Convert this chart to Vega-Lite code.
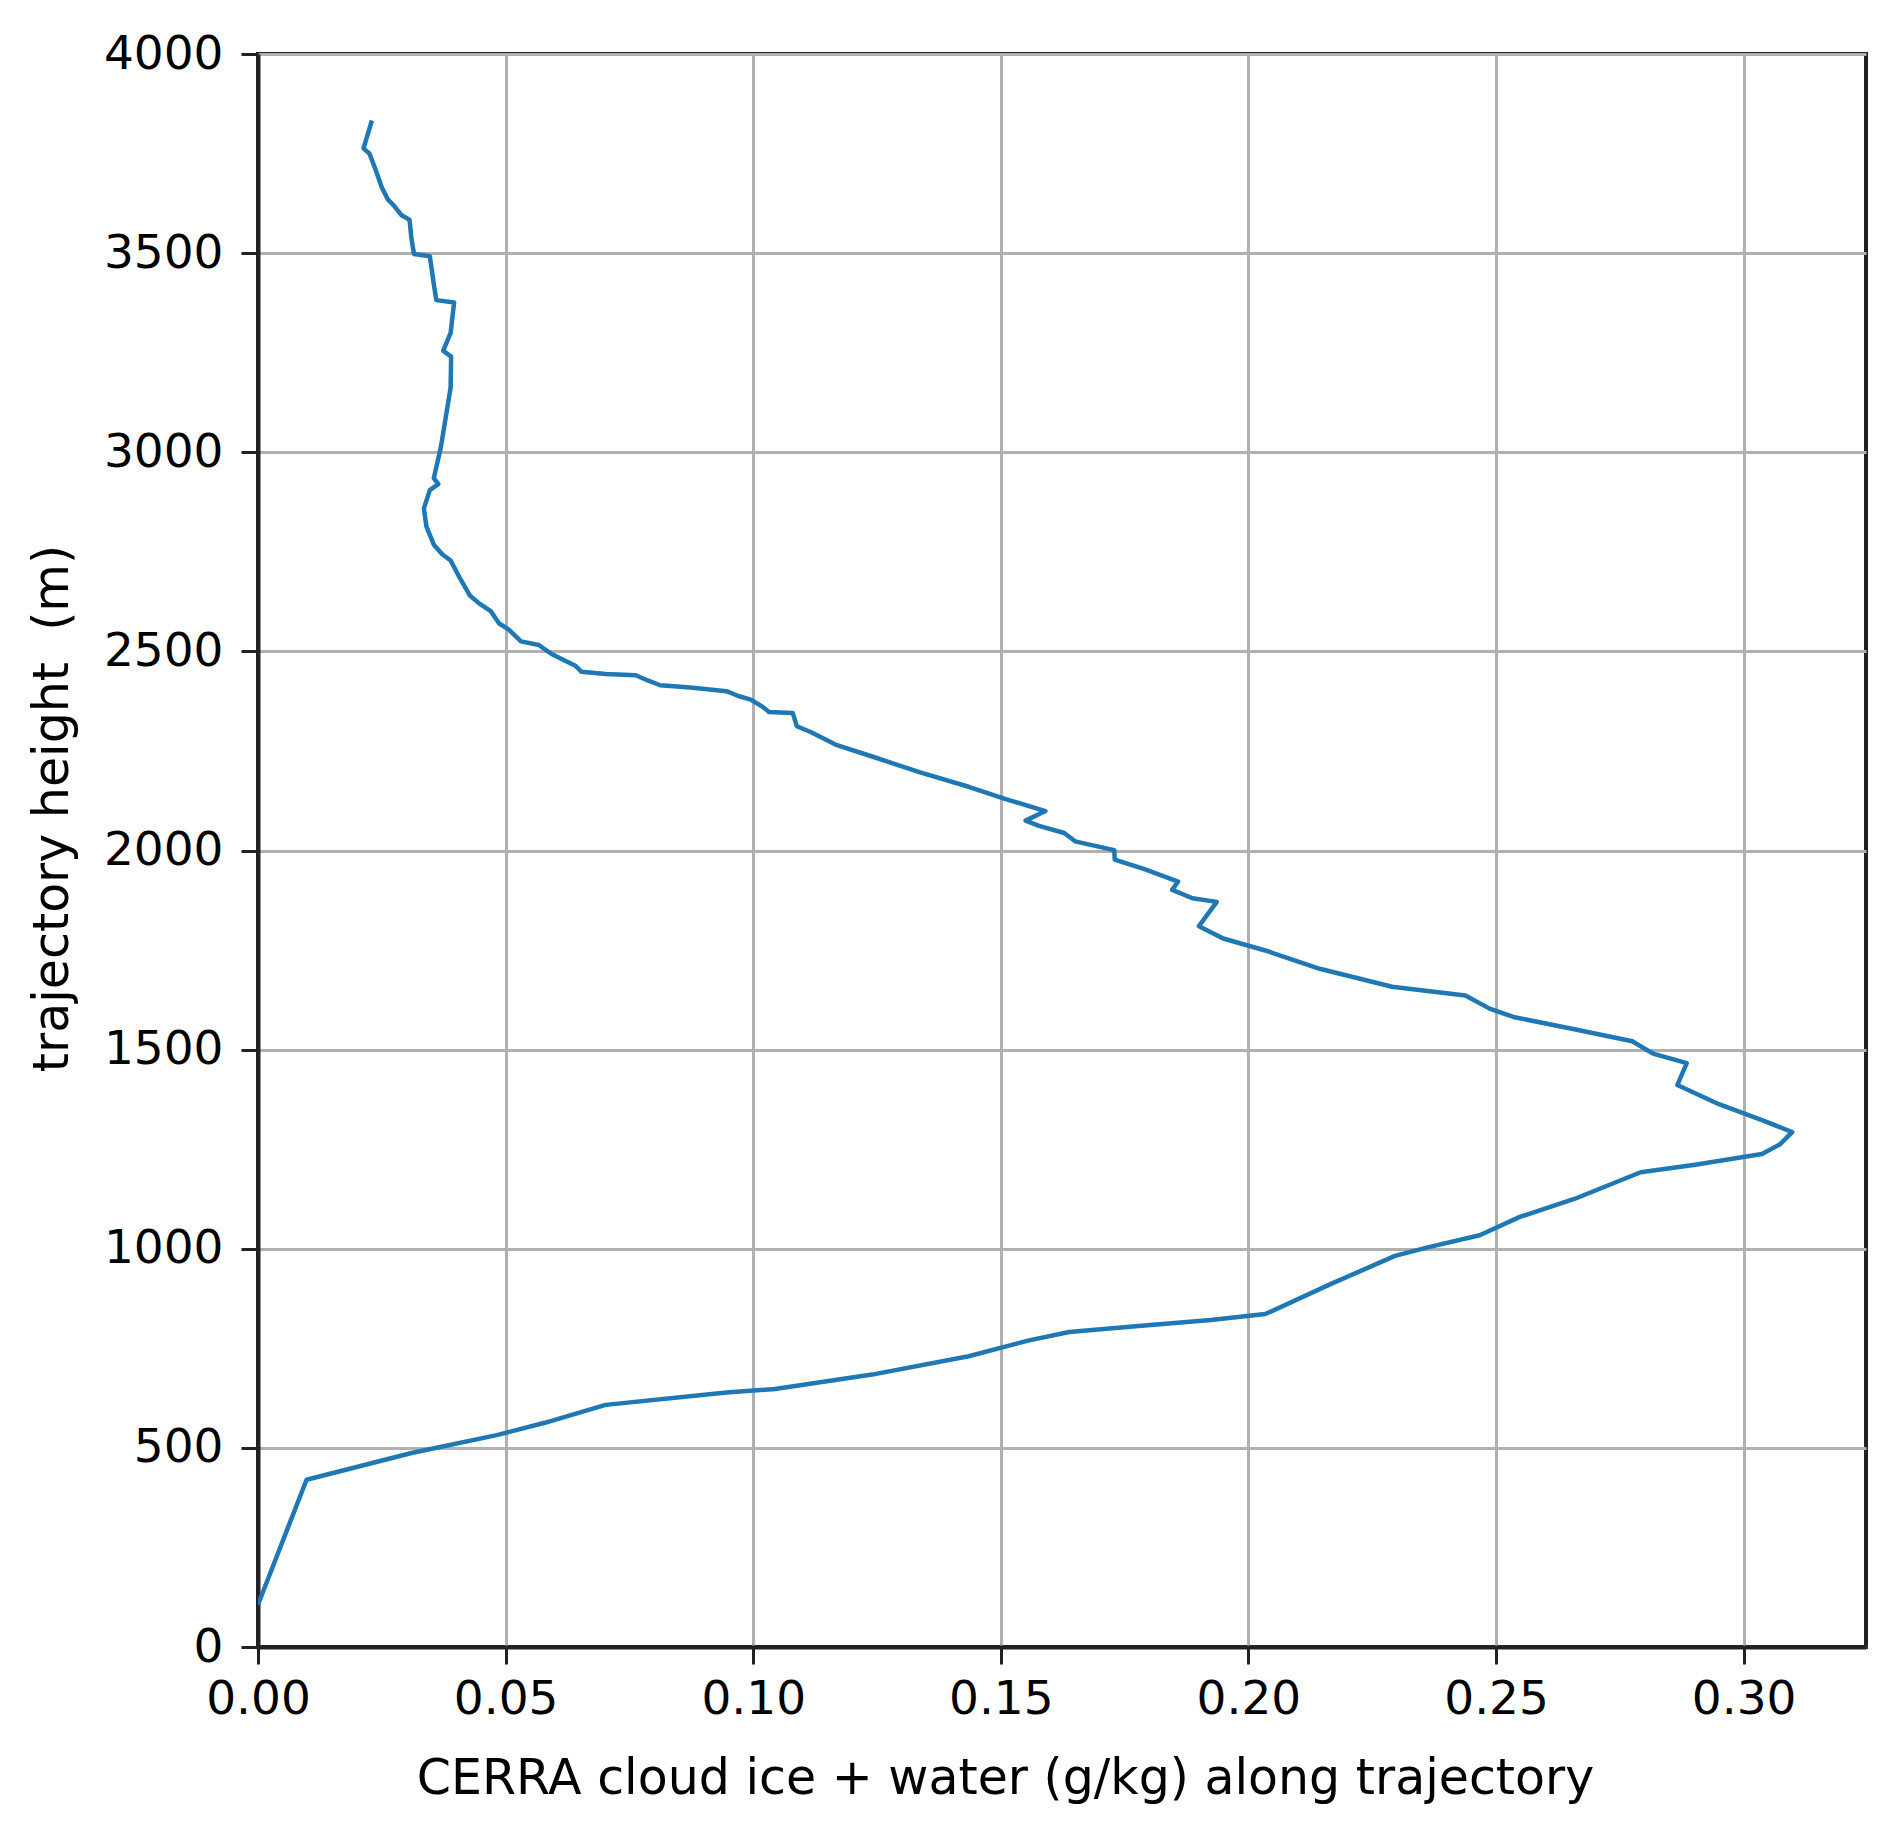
{
  "$schema": "https://vega.github.io/schema/vega-lite/v6.json",
  "width": 1608,
  "height": 1593,
  "autosize": {"type": "none"},
  "padding": {"left": 258, "top": 54, "right": 33, "bottom": 182},
  "background": "white",
  "config": {
    "view": {"stroke": "#222222", "strokeWidth": 4},
    "font": "DejaVu Sans",
    "axis": {
      "labelFont": "DejaVu Sans",
      "titleFont": "DejaVu Sans",
      "labelFontSize": 47,
      "titleFontSize": 49,
      "titleFontWeight": "normal",
      "labelColor": "#000000",
      "titleColor": "#000000",
      "gridColor": "#b0b0b0",
      "gridWidth": 3,
      "gridOpacity": 1,
      "tickColor": "#222222",
      "tickWidth": 3,
      "tickSize": 17,
      "domainColor": "#222222",
      "domainWidth": 4,
      "labelFlush": false
    }
  },
  "data": {
    "values": [
      {"i": 1, "q": 0.0230, "h": 3833},
      {"i": 2, "q": 0.0213, "h": 3763},
      {"i": 3, "q": 0.0225, "h": 3750},
      {"i": 4, "q": 0.0237, "h": 3711},
      {"i": 5, "q": 0.0250, "h": 3665},
      {"i": 6, "q": 0.0262, "h": 3635},
      {"i": 7, "q": 0.0274, "h": 3620},
      {"i": 8, "q": 0.0290, "h": 3595},
      {"i": 9, "q": 0.0306, "h": 3584},
      {"i": 10, "q": 0.0310, "h": 3535},
      {"i": 11, "q": 0.0315, "h": 3498},
      {"i": 12, "q": 0.0347, "h": 3492},
      {"i": 13, "q": 0.0355, "h": 3422},
      {"i": 14, "q": 0.0360, "h": 3382},
      {"i": 15, "q": 0.0396, "h": 3376},
      {"i": 16, "q": 0.0389, "h": 3300},
      {"i": 17, "q": 0.0374, "h": 3255},
      {"i": 18, "q": 0.0390, "h": 3240},
      {"i": 19, "q": 0.0389, "h": 3163},
      {"i": 20, "q": 0.0379, "h": 3087},
      {"i": 21, "q": 0.0369, "h": 3011},
      {"i": 22, "q": 0.0355, "h": 2935},
      {"i": 23, "q": 0.0364, "h": 2920},
      {"i": 24, "q": 0.0347, "h": 2905},
      {"i": 25, "q": 0.0335, "h": 2859},
      {"i": 26, "q": 0.0340, "h": 2814},
      {"i": 27, "q": 0.0355, "h": 2768},
      {"i": 28, "q": 0.0372, "h": 2744},
      {"i": 29, "q": 0.0389, "h": 2728},
      {"i": 30, "q": 0.0408, "h": 2683},
      {"i": 31, "q": 0.0428, "h": 2640},
      {"i": 32, "q": 0.0445, "h": 2622},
      {"i": 33, "q": 0.0470, "h": 2601},
      {"i": 34, "q": 0.0487, "h": 2570},
      {"i": 35, "q": 0.0506, "h": 2555},
      {"i": 36, "q": 0.0531, "h": 2525},
      {"i": 37, "q": 0.0567, "h": 2516},
      {"i": 38, "q": 0.0592, "h": 2494},
      {"i": 39, "q": 0.0616, "h": 2479},
      {"i": 40, "q": 0.0641, "h": 2464},
      {"i": 41, "q": 0.0653, "h": 2449},
      {"i": 42, "q": 0.0702, "h": 2443},
      {"i": 43, "q": 0.0763, "h": 2440},
      {"i": 44, "q": 0.0787, "h": 2427},
      {"i": 45, "q": 0.0812, "h": 2415},
      {"i": 46, "q": 0.0873, "h": 2409},
      {"i": 47, "q": 0.0946, "h": 2400},
      {"i": 48, "q": 0.0970, "h": 2388},
      {"i": 49, "q": 0.0995, "h": 2379},
      {"i": 50, "q": 0.1020, "h": 2360},
      {"i": 51, "q": 0.1032, "h": 2348},
      {"i": 52, "q": 0.1080, "h": 2345},
      {"i": 53, "q": 0.1088, "h": 2312},
      {"i": 54, "q": 0.1117, "h": 2297},
      {"i": 55, "q": 0.1166, "h": 2266},
      {"i": 56, "q": 0.1240, "h": 2236},
      {"i": 57, "q": 0.1337, "h": 2196},
      {"i": 58, "q": 0.1435, "h": 2160},
      {"i": 59, "q": 0.1510, "h": 2129},
      {"i": 60, "q": 0.1590, "h": 2099},
      {"i": 61, "q": 0.1550, "h": 2075},
      {"i": 62, "q": 0.1577, "h": 2062},
      {"i": 63, "q": 0.1628, "h": 2044},
      {"i": 64, "q": 0.1650, "h": 2023},
      {"i": 65, "q": 0.1729, "h": 2001},
      {"i": 66, "q": 0.1730, "h": 1977},
      {"i": 67, "q": 0.1790, "h": 1953},
      {"i": 68, "q": 0.1858, "h": 1922},
      {"i": 69, "q": 0.1846, "h": 1901},
      {"i": 70, "q": 0.1887, "h": 1880},
      {"i": 71, "q": 0.1936, "h": 1871},
      {"i": 72, "q": 0.1900, "h": 1810},
      {"i": 73, "q": 0.1949, "h": 1779},
      {"i": 74, "q": 0.2034, "h": 1749},
      {"i": 75, "q": 0.2144, "h": 1703},
      {"i": 76, "q": 0.2290, "h": 1658},
      {"i": 77, "q": 0.2438, "h": 1636},
      {"i": 78, "q": 0.2487, "h": 1603},
      {"i": 79, "q": 0.2535, "h": 1582},
      {"i": 80, "q": 0.2658, "h": 1551},
      {"i": 81, "q": 0.2775, "h": 1521},
      {"i": 82, "q": 0.2817, "h": 1490},
      {"i": 83, "q": 0.2885, "h": 1466},
      {"i": 84, "q": 0.2866, "h": 1411},
      {"i": 85, "q": 0.2950, "h": 1363},
      {"i": 86, "q": 0.3037, "h": 1323},
      {"i": 87, "q": 0.3098, "h": 1293},
      {"i": 88, "q": 0.3073, "h": 1262},
      {"i": 89, "q": 0.3037, "h": 1238},
      {"i": 90, "q": 0.2902, "h": 1211},
      {"i": 91, "q": 0.2792, "h": 1192},
      {"i": 92, "q": 0.2658, "h": 1125},
      {"i": 93, "q": 0.2548, "h": 1080},
      {"i": 94, "q": 0.2467, "h": 1034},
      {"i": 95, "q": 0.2364, "h": 1004},
      {"i": 96, "q": 0.2296, "h": 982},
      {"i": 97, "q": 0.2169, "h": 913},
      {"i": 98, "q": 0.2034, "h": 836},
      {"i": 99, "q": 0.1924, "h": 821},
      {"i": 100, "q": 0.1778, "h": 806},
      {"i": 101, "q": 0.1638, "h": 791},
      {"i": 102, "q": 0.1557, "h": 770},
      {"i": 103, "q": 0.1435, "h": 730},
      {"i": 104, "q": 0.1240, "h": 684},
      {"i": 105, "q": 0.1044, "h": 648},
      {"i": 106, "q": 0.0946, "h": 639},
      {"i": 107, "q": 0.0702, "h": 608},
      {"i": 108, "q": 0.0579, "h": 563},
      {"i": 109, "q": 0.0482, "h": 532},
      {"i": 110, "q": 0.0310, "h": 487},
      {"i": 111, "q": 0.0098, "h": 420},
      {"i": 112, "q": 0.0000, "h": 106}
    ]
  },
  "mark": {"type": "line", "color": "#1f77b4", "strokeWidth": 4.5, "clip": true, "strokeJoin": "round"},
  "encoding": {
    "x": {
      "field": "q",
      "type": "quantitative",
      "scale": {"domain": [0, 0.3247], "nice": false, "zero": false},
      "axis": {
        "title": "CERRA cloud ice + water (g/kg) along trajectory",
        "values": [0, 0.05, 0.1, 0.15, 0.2, 0.25, 0.3],
        "format": ".2f",
        "labelPadding": 12,
        "titlePadding": 32,
        "titleX": 747
      }
    },
    "y": {
      "field": "h",
      "type": "quantitative",
      "scale": {"domain": [0, 4000], "nice": false},
      "axis": {
        "title": "trajectory height\u00a0 (m)",
        "values": [0, 500, 1000, 1500, 2000, 2500, 3000, 3500, 4000],
        "format": "d",
        "labelPadding": 18,
        "titlePadding": 26,
        "titleY": 754
      }
    },
    "order": {"field": "i", "type": "quantitative"}
  }
}
